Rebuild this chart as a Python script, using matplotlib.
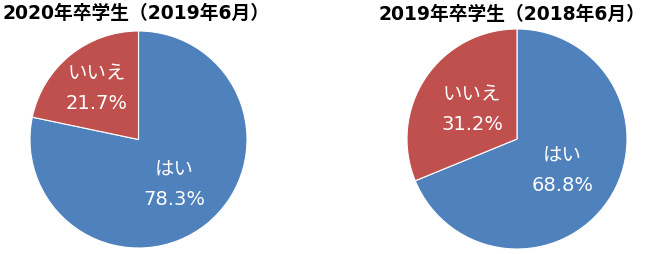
import numpy as np
import matplotlib
matplotlib.use("Agg")
import matplotlib.pyplot as plt

plt.rcParams['font.family'] = ['DejaVu Sans', 'Noto Sans CJK JP']

# データ
titles = ["2020年卒学生（2019年6月）", "2019年卒学生（2018年6月）"]
categories = ["はい", "いいえ"]
values_2020 = [78.3, 21.7]
values_2019 = [68.8, 31.2]

colors = ["#4F81BD", "#C0504D"]

fig = plt.figure(figsize=(6.5, 2.55), dpi=100)

# 軸の位置 (px基準)
ax_boxes = [
    (30 / 650, 6 / 255, 217 / 650, 217 / 255),
    (407 / 650, 5 / 255, 220 / 650, 220 / 255),
]
title_pos = [(2 / 650, 1 - 13 / 255), (379 / 650, 1 - 14 / 255)]
label_dist = [[0.52, 0.61], [0.5, 0.49]]

for k, vals in enumerate([values_2020, values_2019]):
    ax = fig.add_axes(ax_boxes[k])
    wedges, _ = ax.pie(
        vals,
        colors=colors,
        startangle=90,
        counterclock=False,
        radius=1.0,
        wedgeprops=dict(edgecolor="white", linewidth=0.8),
    )
    ax.set_xlim(-1, 1)
    ax.set_ylim(-1, 1)
    ax.set_aspect("equal")
    for i, w in enumerate(wedges):
        ang = np.deg2rad((w.theta1 + w.theta2) / 2)
        d = label_dist[k][i]
        x, y = d * np.cos(ang), d * np.sin(ang)
        ax.text(x, y, f"{categories[i]}\n{vals[i]:.1f}%",
                ha="center", va="center", color="white",
                fontsize=14, linespacing=1.7)
    fig.text(title_pos[k][0], title_pos[k][1], titles[k],
             ha="left", va="center", fontsize=13.5, fontweight="bold")

fig.savefig("out.png", dpi=100, facecolor="white")
